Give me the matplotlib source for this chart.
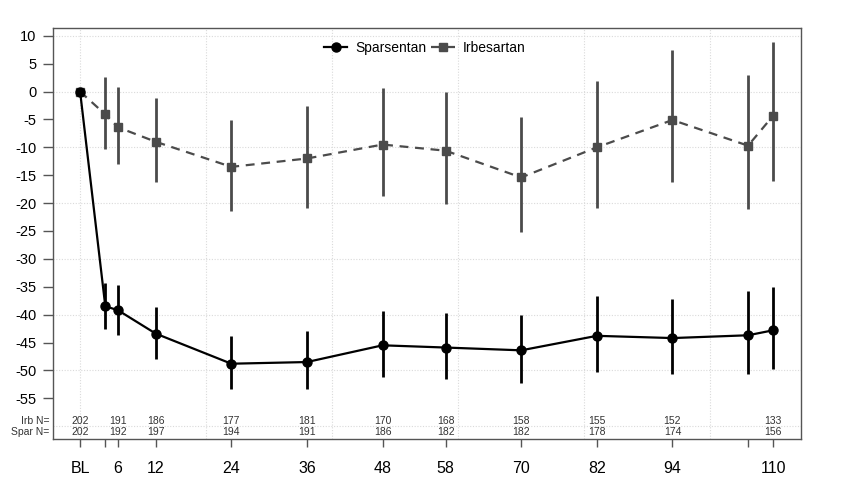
import matplotlib
matplotlib.use("Agg")
import matplotlib.pyplot as plt
from matplotlib.transforms import blended_transform_factory

plt.rcParams['font.family'] = ['Liberation Sans', 'DejaVu Sans']

weeks = [0, 4, 6, 12, 24, 36, 48, 58, 70, 82, 94, 106, 110]
tick_labels = ['BL', '', '6', '12', '24', '36', '48', '58', '70', '82', '94', '', '110']

spar_mean = [0, -38.5, -39.2, -43.4, -48.8, -48.5, -45.5, -45.9, -46.4, -43.8, -44.2, -43.7, -42.8]
spar_hi = [0, -34.4, -34.6, -38.6, -43.8, -43.0, -39.3, -39.7, -40.0, -36.6, -37.2, -35.7, -35.0]
spar_lo = [0, -42.6, -43.6, -47.9, -53.4, -53.4, -51.2, -51.6, -52.2, -50.3, -50.7, -50.6, -49.8]

irb_mean = [0, -4.1, -6.4, -9.0, -13.5, -12.0, -9.5, -10.6, -15.4, -10.0, -5.1, -9.7, -4.3]
irb_hi = [0, 2.6, 0.9, -1.1, -5.1, -2.6, 0.7, -0.1, -4.5, 1.9, 7.4, 3.0, 8.8]
irb_lo = [0, -10.3, -13.0, -16.3, -21.4, -20.8, -18.7, -20.2, -25.2, -20.8, -16.3, -21.1, -16.0]

n_weeks = [0, 6, 12, 24, 36, 48, 58, 70, 82, 94, 110]
irb_n = [202, 191, 186, 177, 181, 170, 168, 158, 155, 152, 133]
spar_n = [202, 192, 197, 194, 191, 186, 182, 182, 178, 174, 156]

fig = plt.figure(figsize=(8.47, 4.90), dpi=100)
ax = fig.add_axes([53/847, 1-439/490, (801-53)/847, (439-28)/490])

irb_col = '#4b4b4b'
# grid
for gx in range(0, 111, 20):
    ax.axvline(gx, color='#dadada', lw=0.8, ls=(0, (1, 1.5)), zorder=0)
for gy in range(-60, 11, 10):
    ax.axhline(gy, color='#dadada', lw=0.8, ls=(0, (1, 1.5)), zorder=0)

# error bars
ax.vlines(weeks[1:], irb_lo[1:], irb_hi[1:], color=irb_col, lw=2, zorder=2)
ax.vlines(weeks[1:], spar_lo[1:], spar_hi[1:], color='black', lw=2, zorder=3)

ax.plot(weeks, irb_mean, color=irb_col, lw=1.6, ls=(0, (4, 3)), marker='s',
        markersize=6, markerfacecolor=irb_col, markeredgecolor=irb_col,
        label='Irbesartan', zorder=4)
ax.plot(weeks, spar_mean, color='black', lw=1.6, ls='-', marker='o',
        markersize=6.5, label='Sparsentan', zorder=5)

h, l = ax.get_legend_handles_labels()
ax.legend(h[::-1], l[::-1], loc='upper center', ncol=2, frameon=False,
          fontsize=10, bbox_to_anchor=(0.497, 1.0), handlelength=1.7,
          columnspacing=0.3, handletextpad=0.6)

ax.set_xlim(-4.3, 114.4)
ax.set_ylim(-62.3, 11.4)
ax.set_yticks(list(range(-55, 11, 5)))
ax.set_yticklabels([str(v) for v in range(-55, 11, 5)], fontsize=10.5)
ax.set_xticks(weeks)
ax.set_xticklabels(tick_labels, fontsize=11.5)
ax.tick_params(axis='y', length=7, width=1, color='#555555', pad=5)
ax.tick_params(axis='x', length=6, width=1, color='#555555', pad=10)
for s in ax.spines.values():
    s.set_color('#555555')
    s.set_linewidth(1)

trans = blended_transform_factory(ax.transAxes, ax.transData)
ax.text(-0.005, -59.1, 'Irb N=', transform=trans, ha='right', va='center',
        fontsize=7.5, color='#333333')
ax.text(-0.005, -61.1, 'Spar N=', transform=trans, ha='right', va='center',
        fontsize=7.5, color='#333333')
for w, a, b in zip(n_weeks, irb_n, spar_n):
    ax.text(w, -59.1, str(a), ha='center', va='center', fontsize=7.5, color='#333333')
    ax.text(w, -61.1, str(b), ha='center', va='center', fontsize=7.5, color='#333333')

fig.savefig('out.png', dpi=100)
